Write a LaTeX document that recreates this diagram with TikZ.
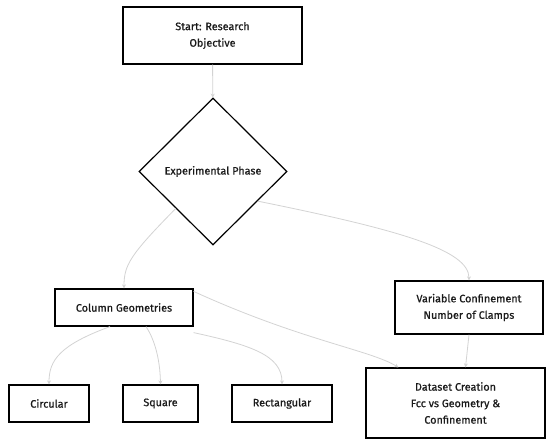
\documentclass[tikz,border=0pt]{standalone}
\usepackage{fontspec}
\setmainfont{Fira Sans}[FakeBold=0.7]
\usetikzlibrary{shapes.geometric,arrows.meta,calc}
\definecolor{edgegray}{HTML}{D3D3D3}
\definecolor{txt}{HTML}{1A1A1A}
\tikzset{
  box/.style={draw=black, line width=1.2pt, fill=white, inner sep=0pt, text=txt, font=\fontsize{10.8}{16.5}\selectfont, align=center},
  decision/.style={draw=black, line width=1.2pt, fill=white, diamond, inner sep=0pt, text=txt, minimum width=148pt, minimum height=147pt, font=\fontsize{10.8}{16.5}\selectfont},
  link/.style={draw=edgegray, line width=0.8pt, -{Stealth[length=4pt,width=4pt]}}
}
\begin{document}
\begin{tikzpicture}[x=1pt,y=-1pt]
\useasboundingbox (0,0) rectangle (550,447);
\node[box, minimum width=179pt, minimum height=57pt] (start) at (212.5,35.5) {Start: Research\\Objective};
\node[decision] (exp) at (213,171.5) {Experimental Phase};
\node[box, minimum width=138pt, minimum height=37pt] (cg) at (124,307.5) {Column Geometries};
\node[box, minimum width=148pt, minimum height=53pt] (vc) at (469,307.5) {Variable Confinement\\Number of Clamps};
\node[box, minimum width=179pt, minimum height=70pt] (ds) at (455.5,403) {Dataset Creation\\Fcc vs Geometry \&\\Confinement};
\node[box, minimum width=80pt, minimum height=37pt] (circ) at (49,403.5) {Circular};
\node[box, minimum width=75pt, minimum height=37pt] (sq) at (160.5,403.5) {Square};
\node[box, minimum width=100pt, minimum height=37pt] (rect) at (282,403.5) {Rectangular};
\draw[link] (start) -- (exp);
\draw[link] ($(exp.west)!0.5!(exp.south)$) .. controls (130,255) and (124,265) .. (cg.north);
\draw[link] ($(exp.east)!0.4!(exp.south)$) .. controls (400,230) and (469,250) .. (vc.north);
\draw[link] ([xshift=-14pt]cg.south) .. controls (60,345) and (49,360) .. (circ.north);
\draw[link] ([xshift=22pt]cg.south) .. controls (155,340) and (160,360) .. (sq.north);
\draw[link] ([yshift=-6pt]cg.south east) .. controls (250,345) and (282,355) .. (rect.north);
\draw[link] ([yshift=-3pt]cg.north east) .. controls (300,340) and (370,350) .. ([xshift=-57pt]ds.north);
\draw[link] (vc.south) -- ([xshift=10pt]ds.north);
\end{tikzpicture}
\end{document}
